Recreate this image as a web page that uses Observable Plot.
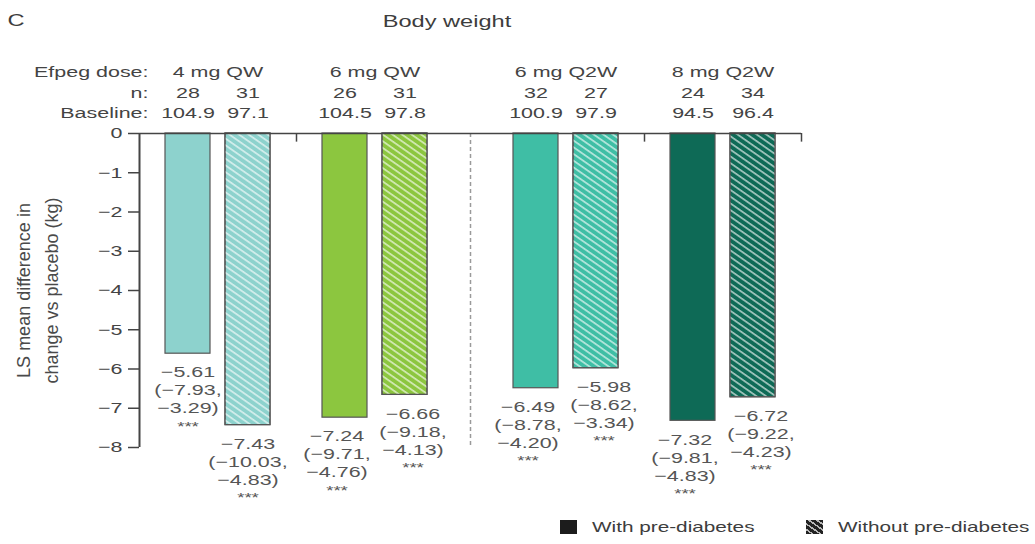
<!DOCTYPE html>
<html>
<head>
<meta charset="utf-8">
<script src="https://cdn.jsdelivr.net/npm/d3@7"></script>
<script src="https://cdn.jsdelivr.net/npm/@observablehq/plot@0.6"></script>
<style>
  body { margin: 0; background: #fff; font-family: "Liberation Sans", Arial, sans-serif; color: #3d3d3d; }
  .wrap { width: 1035px; }
  .top { position: relative; height: 40px; }
  .top span { position: absolute; white-space: nowrap; transform: translate(-50%, -50%) scaleX(1.43); font-size: 16.5px; }
  .legend { position: relative; height: 34px; }
  .legend .sw { position: absolute; top: 10px; width: 17px; height: 14px; }
  .legend .lab { position: absolute; top: 17px; white-space: nowrap; font-size: 14.5px; transform-origin: 0 50%; transform: translateY(-50%) scaleX(1.43); }
</style>
</head>
<body>
<div class="wrap">
  <div class="top" id="titleRow"></div>
  <div id="chart"></div>
  <div class="legend" id="legendRow"></div>
</div>
<script>
// ---------- data ----------
const panelLetter = "C";
const chartTitle = "Body weight";
const doseGroups = ["4 mg QW", "6 mg QW", "6 mg Q2W", "8 mg Q2W"];
const subgroups = ["With pre-diabetes", "Without pre-diabetes"];
const nPatients = [28, 31, 26, 31, 32, 27, 24, 34];
const baselineKg = [104.9, 97.1, 104.5, 97.8, 100.9, 97.9, 94.5, 96.4];
const lsMeanDiff = [-5.61, -7.43, -7.24, -6.66, -6.49, -5.98, -7.32, -6.72];
const ciLower = [-7.93, -10.03, -9.71, -9.18, -8.78, -8.62, -9.81, -9.22];
const ciUpper = [-3.29, -4.83, -4.76, -4.13, -4.20, -3.34, -4.83, -4.23];
const significance = ["***", "***", "***", "***", "***", "***", "***", "***"];
const doseColors = ["#8dd2cd", "#8cc63f", "#3fbea5", "#0e6a56"];
const yTicks = [0, -1, -2, -3, -4, -5, -6, -7, -8];
const headerLabels = ["Efpeg dose:", "n:", "Baseline:"];
const yLabel = "LS mean difference in\nchange vs placebo (kg)";

// ---------- layout (computed, in x-scale units) ----------
const PAD = 26, BAR = 45, GAP = 15, SEP = 17, STRETCH = 1.43;
const regimen = g => g.split(" ").pop();
const groupsLayout = [];
let cursor = 0;
doseGroups.forEach((g, i) => {
  const sepBefore = i > 0 && regimen(g) !== regimen(doseGroups[i - 1]);
  const sepAfter = i < doseGroups.length - 1 && regimen(g) !== regimen(doseGroups[i + 1]);
  const b1 = cursor + PAD + (sepBefore ? SEP : 0);
  const end = b1 + 2 * BAR + GAP + PAD + (sepAfter ? SEP : 0);
  groupsLayout.push({group: g, b1, mid: b1 + BAR + GAP / 2, end, sepAfter});
  cursor = end;
});
const total = cursor;

const fmt = v => (v < 0 ? "\u2212" : "") + Math.abs(v).toFixed(2);
const rows = lsMeanDiff.map((v, k) => {
  const gi = Math.floor(k / 2), si = k % 2;
  const x1 = groupsLayout[gi].b1 + si * (BAR + GAP);
  return {group: doseGroups[gi], subgroup: subgroups[si], si, x1, x2: x1 + BAR, cx: x1 + BAR / 2,
          value: v, lo: ciLower[k], hi: ciUpper[k], n: nPatients[k], base: baselineKg[k],
          sig: significance[k], color: doseColors[gi], nudge: 0};
});
for (let gi = 0; gi < doseGroups.length; gi++) {
  const a = rows[2 * gi], b = rows[2 * gi + 1];
  if (Math.abs(a.value - b.value) < 1.5) { a.nudge = -1; b.nudge = 1; }
}
const labelX = d => d.cx + d.nudge * 8;

const svg = Plot.plot({
  width: 1035,
  height: 470,
  marginTop: 93,
  marginBottom: 63,
  marginLeft: 139,
  marginRight: 1035 - 139 - total,
  x: {domain: [0, total], axis: null},
  y: {domain: [-8, 0], axis: null},
  color: {type: "identity"},
  style: {fontFamily: "'Liberation Sans', Arial, sans-serif", fontSize: "15px", color: "#444", background: "white"},
  marks: [
    Plot.rect(rows, {x1: "x1", x2: "x2", y1: 0, y2: "value", fill: "color", stroke: "#555", strokeWidth: 1.2}),
    Plot.rect(rows.filter(d => d.si === 1), {x1: "x1", x2: "x2", y1: 0, y2: "value", fill: "url(#hatch)", stroke: "#555", strokeWidth: 1.2}),
    Plot.ruleX(groupsLayout.filter(d => d.sepAfter), {x: "end", y1: 0, y2: -8, stroke: "#9a9a9a", strokeWidth: 1.5, strokeDasharray: "4,3"}),
    Plot.ruleX(groupsLayout.filter(d => !d.sepAfter), {x: "end", y1: 0, y2: -0.22, stroke: "#444", strokeWidth: 1.5}),
    Plot.ruleY([0], {x1: 0, x2: total, stroke: "#444", strokeWidth: 1.5}),
    Plot.ruleX([0], {y1: -8, y2: 0, stroke: "#444", strokeWidth: 2}),
    Plot.axisY({ticks: yTicks, tickSize: 11, tickPadding: 6, label: null, fontSize: 15, color: "#444", strokeWidth: 1.5}),
    Plot.text([yLabel], {frameAnchor: "left", dx: -104, rotate: -90, textAnchor: "middle", text: d => d, fontSize: 18, lineHeight: 1.55, fill: "#4a4a4a"}),
    // header rows
    Plot.text([headerLabels[0]], {frameAnchor: "top-left", dx: 9, dy: -67, textAnchor: "end", text: d => d, fontSize: 15, fill: "#444"}),
    Plot.text([headerLabels[1]], {frameAnchor: "top-left", dx: 9, dy: -46, textAnchor: "end", text: d => d, fontSize: 15, fill: "#444"}),
    Plot.text([headerLabels[2]], {frameAnchor: "top-left", dx: 9, dy: -26, textAnchor: "end", text: d => d, fontSize: 15, fill: "#444"}),
    Plot.text(groupsLayout, {x: "mid", frameAnchor: "top", dy: -67, text: "group", fontSize: 15, fill: "#444"}),
    Plot.text(rows, {x: "cx", frameAnchor: "top", dy: -46, text: d => String(d.n), fontSize: 15, fill: "#444"}),
    Plot.text(rows, {x: "cx", frameAnchor: "top", dy: -26, text: d => d.base.toFixed(1), fontSize: 15, fill: "#444"}),
    // value labels
    Plot.text(rows, {x: labelX, y: "value", text: d => `${fmt(d.value)}\n(${fmt(d.lo)},\n${fmt(d.hi)})`,
                     lineAnchor: "top", dy: 11, lineHeight: 1.2, fontSize: 15, fill: "#555"}),
    Plot.text(rows, {x: labelX, y: "value", text: "sig", dy: 73, fontSize: 13, fill: "#555"})
  ]
});

// hatch pattern
const defs = d3.select(svg).insert("defs", ":first-child");
const pat = defs.append("pattern").attr("id", "hatch").attr("patternUnits", "userSpaceOnUse")
  .attr("width", 5.5).attr("height", 5.5).attr("patternTransform", "rotate(35)");
pat.append("rect").attr("x", 0).attr("y", 0).attr("width", 5.5).attr("height", 1.7)
  .attr("fill", "white").attr("fill-opacity", 0.62);

// horizontal stretch of glyphs (the reference text is wide)
svg.querySelectorAll("text").forEach(t => {
  const tr = t.getAttribute("transform") || "";
  if (/rotate/.test(tr)) return;
  if (/^translate\([^)]*\)/.test(tr)) {
    t.setAttribute("transform", tr.replace(/^(translate\([^)]*\))/, `$1 scale(${STRETCH},1)`));
  } else if (!tr) {
    const x = +t.getAttribute("x") || 0, y = +t.getAttribute("y") || 0;
    t.setAttribute("transform", `translate(${x},${y}) scale(${STRETCH},1) translate(${-x},${-y})`);
  }
});
document.getElementById("chart").appendChild(svg);

// title row
const titleRow = document.getElementById("titleRow");
[[panelLetter, 16, 20], [chartTitle, 447, 21]].forEach(([txt, x, y]) => {
  const s = document.createElement("span");
  s.textContent = txt; s.style.left = x + "px"; s.style.top = y + "px";
  titleRow.appendChild(s);
});

// legend
const legendRow = document.getElementById("legendRow");
const legendItems = [
  {label: subgroups[0], sw: 560, tx: 592, bg: "#1c1c1c"},
  {label: subgroups[1], sw: 806, tx: 838, bg: "repeating-linear-gradient(35deg, #222 0 3px, #b8b8b8 3px 4.6px)"}
];
legendItems.forEach(it => {
  const sw = document.createElement("div");
  sw.className = "sw"; sw.style.left = it.sw + "px"; sw.style.background = it.bg;
  const lab = document.createElement("div");
  lab.className = "lab"; lab.style.left = it.tx + "px"; lab.textContent = it.label;
  legendRow.appendChild(sw); legendRow.appendChild(lab);
});
</script>
</body>
</html>
